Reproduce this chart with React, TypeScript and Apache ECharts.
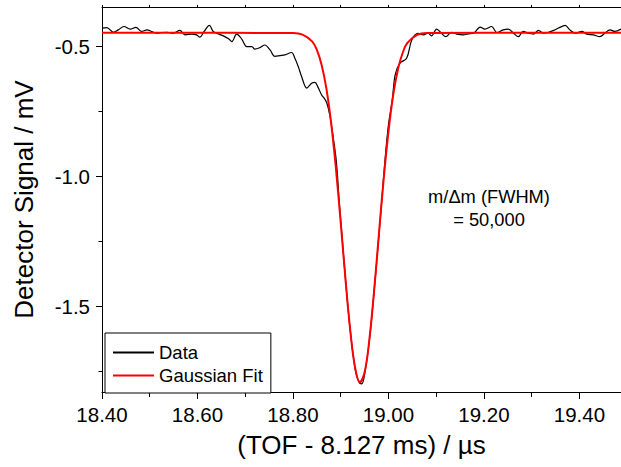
import React, { useEffect, useRef } from "react";
import * as echarts from "echarts";

// Measured data (black trace)
const dataX = [
  18.400, 18.410, 18.424, 18.434, 18.446, 18.459, 18.471, 18.483, 18.494, 18.504,
  18.515, 18.525, 18.536, 18.549, 18.563, 18.574, 18.588, 18.598, 18.605, 18.614,
  18.625, 18.633, 18.644, 18.654, 18.665, 18.672, 18.682, 18.693, 18.703, 18.714,
  18.720, 18.731, 18.741, 18.752, 18.762, 18.773, 18.783, 18.797, 18.804, 18.811,
  18.818, 18.829, 18.839, 18.846, 18.852, 18.860, 18.866, 18.871, 18.877, 18.884,
  18.891, 18.897, 18.903, 18.910, 18.920, 18.930, 18.938, 18.944, 18.950, 18.960,
  18.970, 18.980, 18.986, 18.993, 19.000, 19.008, 19.014, 19.024, 19.038, 19.049,
  19.062, 19.073, 19.083, 19.090, 19.101, 19.111, 19.120, 19.132, 19.143, 19.157,
  19.167, 19.178, 19.192, 19.202, 19.216, 19.227, 19.240, 19.251, 19.262, 19.272,
  19.282, 19.293, 19.304, 19.314, 19.325, 19.335, 19.346, 19.356, 19.370, 19.380,
  19.391, 19.405, 19.415, 19.429, 19.443, 19.453, 19.464, 19.474, 19.487,
];
const dataY = [
  -0.429, -0.427, -0.445, -0.436, -0.423, -0.433, -0.426, -0.442, -0.436, -0.442,
  -0.449, -0.446, -0.445, -0.449, -0.438, -0.455, -0.452, -0.455, -0.464, -0.442,
  -0.419, -0.442, -0.452, -0.459, -0.470, -0.481, -0.452, -0.472, -0.500, -0.500,
  -0.510, -0.504, -0.494, -0.513, -0.538, -0.535, -0.532, -0.523, -0.545, -0.577,
  -0.615, -0.660, -0.641, -0.638, -0.655, -0.686, -0.700, -0.718, -0.763, -0.846,
  -0.945, -1.100, -1.235, -1.395, -1.592, -1.738, -1.790, -1.797, -1.760, -1.630,
  -1.440, -1.225, -1.090, -0.930, -0.800, -0.705, -0.609, -0.564, -0.545, -0.474,
  -0.449, -0.455, -0.449, -0.459, -0.433, -0.449, -0.462, -0.445, -0.452, -0.455,
  -0.451, -0.449, -0.425, -0.433, -0.423, -0.446, -0.436, -0.433, -0.449, -0.462,
  -0.442, -0.449, -0.452, -0.438, -0.449, -0.445, -0.438, -0.429, -0.419, -0.436,
  -0.449, -0.442, -0.452, -0.455, -0.462, -0.449, -0.436, -0.442, -0.433,
];

// Gaussian fit (red trace)
const fitX = [
  18.40, 18.80, 18.82, 18.84, 18.85, 18.86, 18.87, 18.88, 18.89, 18.90,
  18.91, 18.92, 18.93, 18.94, 18.95, 18.96, 18.97, 18.98, 18.99, 19.00,
  19.01, 19.02, 19.03, 19.04, 19.06, 19.08, 19.487,
];
const fitY = [
  -0.447, -0.448, -0.454, -0.480, -0.513, -0.571, -0.662, -0.795, -0.970, -1.177,
  -1.395, -1.592, -1.733, -1.790, -1.752, -1.626, -1.437, -1.220, -1.009, -0.827,
  -0.685, -0.586, -0.523, -0.485, -0.455, -0.448, -0.447,
];

const xMajorTicks = [18.4, 18.6, 18.8, 19.0, 19.2, 19.4];
const xMinorTicks = [18.5, 18.7, 18.9, 19.1, 19.3];
const xTopTicks = [18.4, 18.5, 18.6, 18.7, 18.8, 18.9, 19.0, 19.1, 19.2, 19.3, 19.4];
const yMajorTicks = [-1.5, -1.0, -0.5];
const yMinorTicks = [-1.75, -1.25, -0.75];

const xTitle = "(TOF - 8.127 ms) / \u00b5s";
const yTitle = "Detector Signal / mV";
const noteLines = ["m/\u0394m (FWHM)", "= 50,000"];

const X_MIN = 18.4;
const X_MAX = 19.487;
const Y_MIN = -1.828;
const Y_MAX = -0.348;

const FONT = "Liberation Sans, Arial, Helvetica, sans-serif";

export default function App() {
  const ref = useRef<HTMLDivElement>(null);

  useEffect(() => {
    if (!ref.current) return;
    const chart = echarts.init(ref.current, null, { renderer: "svg" });
    const black = "#000";
    const dataPairs = dataX.map((x, i) => [x, dataY[i]]);
    const fitPairs = fitX.map((x, i) => [x, fitY[i]]);

    const baseX = {
      type: "value",
      min: X_MIN,
      max: X_MAX,
      splitLine: { show: false },
    };
    const baseY = {
      type: "value",
      min: Y_MIN,
      max: Y_MAX,
      splitLine: { show: false },
    };

    chart.setOption({
      animation: false,
      backgroundColor: "#fff",
      textStyle: { fontFamily: FONT },
      grid: { left: 102, right: 0, top: 7, bottom: 75, containLabel: false },
      xAxis: [
        {
          ...baseX,
          position: "bottom",
          axisLine: { show: true, onZero: false, lineStyle: { color: black, width: 1 } },
          axisTick: { show: true, length: 7, customValues: xMajorTicks, lineStyle: { color: black } },
          axisLabel: {
            show: true,
            customValues: xMajorTicks,
            formatter: (v: number) => v.toFixed(2),
            fontSize: 20.5,
            color: black,
            fontFamily: FONT,
            margin: 12,
          },
          name: xTitle,
          nameLocation: "middle",
          nameGap: 40,
          nameTextStyle: { fontSize: 26, color: black, fontFamily: FONT },
        },
        {
          ...baseX,
          position: "bottom",
          axisLine: { show: false, onZero: false },
          axisTick: { show: true, length: 5, customValues: xMinorTicks, lineStyle: { color: black } },
          axisLabel: { show: false },
        },
        {
          ...baseX,
          position: "top",
          axisLine: { show: true, onZero: false, lineStyle: { color: black, width: 1 } },
          axisTick: { show: true, length: 2, customValues: xTopTicks, lineStyle: { color: black } },
          axisLabel: { show: false },
        },
      ],
      yAxis: [
        {
          ...baseY,
          position: "left",
          axisLine: { show: true, onZero: false, lineStyle: { color: black, width: 1 } },
          axisTick: { show: true, length: 6, customValues: yMajorTicks, lineStyle: { color: black } },
          axisLabel: {
            show: true,
            customValues: yMajorTicks,
            formatter: (v: number) => v.toFixed(1),
            fontSize: 20.5,
            color: black,
            fontFamily: FONT,
            margin: 12,
          },
          name: yTitle,
          nameLocation: "middle",
          nameGap: 65,
          nameTextStyle: { fontSize: 26, color: black, fontFamily: FONT },
        },
        {
          ...baseY,
          position: "left",
          axisLine: { show: false, onZero: false },
          axisTick: { show: true, length: 3.5, customValues: yMinorTicks, lineStyle: { color: black } },
          axisLabel: { show: false },
        },
      ],
      legend: {
        orient: "vertical",
        left: 105,
        top: 333,
        padding: [10, 8, 8, 7],
        itemGap: 4,
        itemWidth: 41,
        itemHeight: 2,
        itemStyle: { opacity: 0 },
        borderColor: black,
        borderWidth: 1,
        backgroundColor: "#fff",
        textStyle: { fontSize: 18.5, color: black, fontFamily: FONT },
        data: ["Data", "Gaussian Fit"],
      },
      graphic: [
        {
          type: "text",
          x: 489,
          y: 196,
          style: {
            text: noteLines[0],
            fontSize: 18.3,
            fontFamily: FONT,
            fill: black,
            align: "center",
            verticalAlign: "middle",
          },
        },
        {
          type: "text",
          x: 489,
          y: 219,
          style: {
            text: noteLines[1],
            fontSize: 18.3,
            fontFamily: FONT,
            fill: black,
            align: "center",
            verticalAlign: "middle",
          },
        },
      ],
      series: [
        {
          name: "Data",
          type: "line",
          xAxisIndex: 0,
          yAxisIndex: 0,
          data: dataPairs,
          symbol: "none",
          smooth: 0.35,
          lineStyle: { color: black, width: 1.2 },
          itemStyle: { color: black },
          z: 2,
        },
        {
          name: "Gaussian Fit",
          type: "line",
          xAxisIndex: 0,
          yAxisIndex: 0,
          data: fitPairs,
          symbol: "none",
          smooth: 0.4,
          lineStyle: { color: "#ff0000", width: 2 },
          itemStyle: { color: "#ff0000" },
          z: 3,
        },
      ],
    });
    return () => chart.dispose();
  }, []);

  return (
    <div
      ref={ref}
      style={{ position: "fixed", left: 0, top: 0, width: 621, height: 467 }}
    />
  );
}
